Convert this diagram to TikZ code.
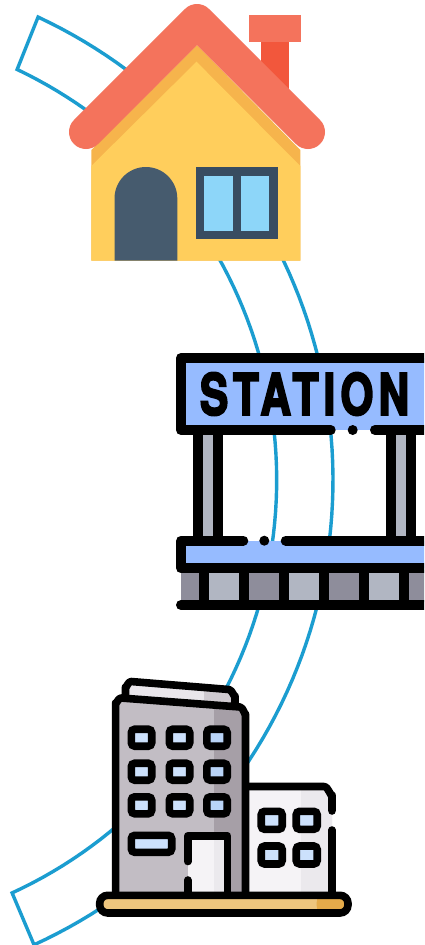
\documentclass[tikz,border=0pt]{standalone}
\usepackage{graphicx}
\usepackage{fontspec}
\newfontfamily\signfont[FakeBold=4,LetterSpace=12]{TeX Gyre Heros Bold}
\definecolor{routeblue}{HTML}{1B9DD0}
\definecolor{roofred}{HTML}{F4735C}
\definecolor{chimred}{HTML}{F2573C}
\definecolor{wallyel}{HTML}{FFCE5C}
\definecolor{wallorg}{HTML}{F6B44C}
\definecolor{doorslate}{HTML}{465B6E}
\definecolor{winframe}{HTML}{384C61}
\definecolor{winsky}{HTML}{8DD6F9}
\definecolor{signblue}{HTML}{96BBFF}
\definecolor{pillgrey}{HTML}{B1B6C2}
\definecolor{tiledark}{HTML}{8E8D9B}
\definecolor{towerg}{HTML}{C2BDC4}
\definecolor{towerd}{HTML}{A69FA7}
\definecolor{capl}{HTML}{E9E6EB}
\definecolor{capd}{HTML}{CFCAD0}
\definecolor{pale}{HTML}{F5F3F6}
\definecolor{paled}{HTML}{EBE9ED}
\definecolor{glass}{HTML}{CCE1FC}
\definecolor{glassd}{HTML}{B9D4F7}
\definecolor{baru}{HTML}{EEC67E}
\definecolor{bard}{HTML}{E5AB4A}
\tikzset{
  ink/.style={draw=black,line width=10pt,line cap=round,line join=round},
  inkthin/.style={draw=black,line width=7.6pt,line cap=round,line join=round},
  winbox/.style={draw=black,line width=7.6pt,rounded corners=3.5pt,fill=glass},
  route/.style={draw=routeblue,line width=3.4pt,line join=miter}
}
\begin{document}
\begin{tikzpicture}[x=1pt,y=-1pt]
\useasboundingbox (0,0) rectangle (424,945);
\fill[white] (0,0) rectangle (424,945);
\begin{scope}
\clip (0,0) rectangle (424,945);
% route band
\draw[route] plot[domain=-65:65.5,samples=90] ({-177.8+510.8*cos(\x)},{480+510.8*sin(\x)})
  -- plot[domain=65.3:-64.6,samples=90] ({-177.8+454.5*cos(\x)},{480+454.5*sin(\x)}) -- cycle;

% house
\fill[chimred] (260.7,40) rectangle (289.3,100);
\fill[roofred] (249.3,14.7) rectangle (301,42.3);
\fill[wallorg] (91.3,260.7) -- (91.3,150) -- (197,45) -- (300.3,150) -- (300.3,260.7) -- cycle;
\fill[wallyel] (91.3,260.7) -- (91.3,166) -- (196.5,61.7) -- (300.3,166) -- (300.3,260.7) -- cycle;
\draw[roofred,line width=34pt,line cap=round,line join=round] (86,132) -- (197,21) -- (308,132);
\fill[doorslate] (114.5,260.7) -- (114.5,198.4) arc[start angle=180,end angle=360,radius=31.4] -- (177.3,260.7) -- cycle;
\fill[winframe] (196,167) rectangle (278,239.3);
\fill[winsky] (204,175.7) rectangle (232.7,230.7);
\fill[winsky] (241,175.7) rectangle (269.3,230.7);

% station: pillars
\fill[pillgrey] (198,435) rectangle (218,540);
\fill[pillgrey] (390.7,435) rectangle (410.7,540);
\draw[ink,line cap=butt] (198,430) -- (198,541) (218,430) -- (218,541) (390.7,430) -- (390.7,541) (410.7,430) -- (410.7,541);
% station: sign
\fill[signblue] (181,358) rectangle (432,430);
\draw[ink] (330.7,430) -- (181,430) -- (181,358) -- (432,358) -- (432,430) -- (375,430);
\fill (352.7,430) circle[radius=5];
\node[inner sep=0,anchor=center] (stationword) at (304.5,394) {\resizebox{209pt}{42pt}{\signfont STATION}};
% station: tiles
\fill[tiledark] (181,570) rectangle (204,602);
\fill[pillgrey] (204,570) rectangle (244,602);
\fill[tiledark] (244,570) rectangle (284,602);
\fill[pillgrey] (284,570) rectangle (324,602);
\fill[tiledark] (324,570) rectangle (364,602);
\fill[pillgrey] (364,570) rectangle (404,602);
\fill[tiledark] (404,570) rectangle (430,602);
\draw[ink,line cap=butt] (204.3,568) -- (204.3,605) (244.3,568) -- (244.3,605) (284.3,568) -- (284.3,605) (324.3,568) -- (324.3,605) (364.3,568) -- (364.3,605) (404.3,568) -- (404.3,605);
\draw[ink] (181,605) -- (432,605);
% station: platform
\fill[signblue] (181,540.7) rectangle (432,568.3);
\draw[ink] (243.3,540.7) -- (181,540.7) -- (181,568.3) -- (432,568.3) -- (432,540.7) -- (285.7,540.7);
\fill (264.3,540.7) circle[radius=5];

% building: top cap
\fill[capl] (125.5,700) -- (125.5,686) -- (130,682.5) -- (230,690) -- (235,695) -- (235,708) -- cycle;
\fill[capd] (204,688.5) -- (230,690) -- (235,695) -- (235,708) -- (204,705) -- cycle;
\draw[inkthin] (125.5,696) -- (125.5,687) to[out=270,in=175] (131,681.5) -- (229,689.5) to[out=-5,in=270] (235,696) -- (235,704);
% building: small block
\fill[pale] (245,786.5) -- (324,786.5) -- (332,794) -- (332,893) -- (245,893) -- cycle;
\fill[paled] (301,786.5) -- (324,786.5) -- (332,794) -- (332,893) -- (301,893) -- cycle;
\draw[inkthin] (245.5,786.5) -- (324,786.5) to[out=0,in=270] (332,795) -- (332,811);
\draw[inkthin] (332,830) -- (332,893);
\draw[winbox] (261.2,811.3) rectangle (282.2,829.3);
\draw[winbox] (296.2,811.3) rectangle (317.2,829.3);
\draw[winbox] (261.2,846) rectangle (282.2,864);
\draw[winbox] (296.2,846) rectangle (317.2,864);
% building: tower
\fill[towerg] (115.6,698) -- (240,707) -- (245.5,712) -- (245.5,893) -- (115.6,893) -- cycle;
\fill[towerd] (214,705) -- (240,707) -- (245.5,712) -- (245.5,893) -- (214,893) -- cycle;
\draw[inkthin] (115.6,893) -- (115.6,703) to[out=270,in=175] (121,698) -- (240,707) to[out=-5,in=270] (245.5,714) -- (245.5,893);
\foreach \cx/\gl in {141.5/glass,179.5/glass,217/glassd}
  \foreach \cy in {737.7,771.7,805.3}
    \draw[winbox,fill=\gl] (\cx-10.2,\cy-8.5) rectangle (\cx+10.2,\cy+8.5);
\draw[winbox] (131.3,835.3) rectangle (171.7,852.3);
% building: door
\fill[pale] (187.7,835.7) rectangle (227.3,893);
\fill[paled] (214,835.7) rectangle (227.3,893);
\draw[inkthin] (187.7,861.5) -- (187.7,835.7) -- (227.3,835.7) -- (227.3,893);
\draw[inkthin] (187.7,880) -- (187.7,893);
% building: ground bar
\fill[baru,rounded corners=7pt] (99.7,895.3) rectangle (348,913);
\fill[bard,rounded corners=7pt] (316.7,895.3) rectangle (348,913);
\fill[bard] (316.7,895.3) rectangle (325,913);
\draw[draw=black,line width=7.6pt,rounded corners=8pt] (99.7,895.3) rectangle (348,913);
\end{scope}
\end{tikzpicture}
\end{document}
